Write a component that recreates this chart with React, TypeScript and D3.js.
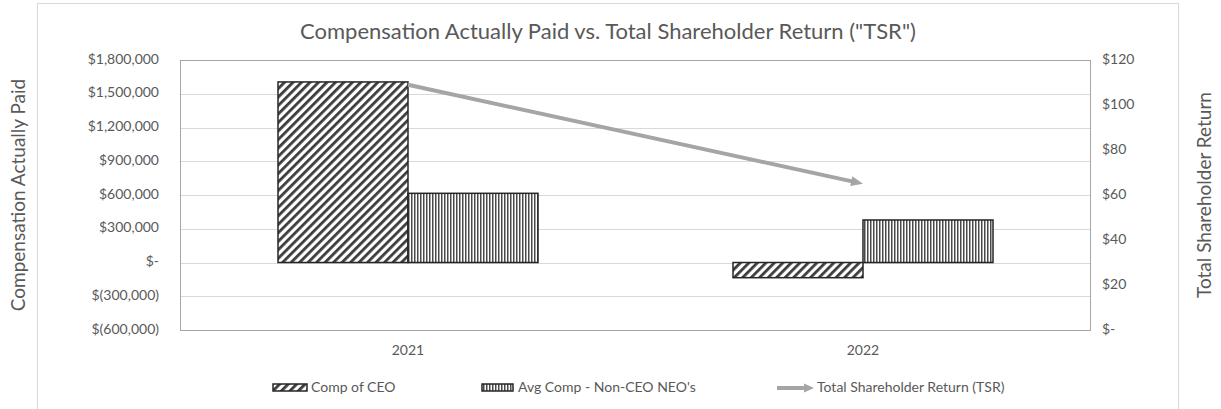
import React from 'react';
import * as d3 from 'd3';

// chart values
const years = ['2021', '2022'];
const ceoComp = [1605000, -135000];
const neoComp = [615000, 378000];
const tsr = [109, 65];
const leftTicks = [-600000, -300000, 0, 300000, 600000, 900000, 1200000, 1500000, 1800000];
const rightTicks = [0, 20, 40, 60, 80, 100, 120];
const seriesNames = ['Comp of CEO', "Avg Comp - Non-CEO NEO's"];
const lineName = 'Total Shareholder Return (TSR)';

const W = 1221;
const H = 409;
const plot = { left: 180.5, right: 1090.5, top: 60, bottom: 330 };
const textColor = '#595959';
const font = 'Lato, "Open Sans", sans-serif';

const fmtLeft = (v: number) => {
  if (v === 0) return '$-';
  const s = d3.format(',')(Math.abs(v));
  return v < 0 ? `$(${s})` : `$${s}`;
};
const fmtRight = (v: number) => (v === 0 ? '$-' : `$${v}`);

// arrow shaft that stops short of the tip so the head stays clean
const arrow = (x1: number, y1: number, x2: number, y2: number, len: number, half: number) => {
  const dx = x2 - x1, dy = y2 - y1;
  const d = Math.hypot(dx, dy);
  const ux = dx / d, uy = dy / d;
  const bx = x2 - ux * len, by = y2 - uy * len;
  const head = `M${x2},${y2}L${bx - uy * half},${by + ux * half}L${bx + uy * half},${by - ux * half}Z`;
  return { shaftEnd: [bx + ux * 2, by + uy * 2], head };
};

const App: React.FC = () => {
  const x0 = d3.scaleBand<string>().domain(years).range([plot.left, plot.right]);
  const x1 = d3.scaleBand<string>().domain(seriesNames).range([0, x0.bandwidth()]).paddingInner(0).paddingOuter(0.75);
  const yL = d3.scaleLinear().domain([-600000, 1800000]).range([plot.bottom, plot.top]);
  const yR = d3.scaleLinear().domain([0, 120]).range([plot.bottom, plot.top]);

  const fills = ['url(#diag)', 'url(#vert)'];
  const bars = years.flatMap((yr, i) =>
    [ceoComp[i], neoComp[i]].map((v, j) => ({
      key: `${yr}-${j}`,
      x: (x0(yr) as number) + (x1(seriesNames[j]) as number),
      y: yL(Math.max(0, v)),
      h: Math.abs(yL(v) - yL(0)),
      fill: fills[j],
    }))
  );

  const pts = years.map((yr, i) => [(x0(yr) as number) + x0.bandwidth() / 2, yR(tsr[i])] as [number, number]);
  const last = pts[pts.length - 1];
  const prev = pts[pts.length - 2];
  const a = arrow(prev[0], prev[1], last[0], last[1], 12, 5);
  const linePts = [...pts.slice(0, -1), a.shaftEnd as [number, number]];
  const lineGen = d3.line();

  const legY = 388;
  const legArrow = arrow(777, legY, 814, legY, 10, 4.5);

  return (
    <div style={{ position: 'absolute', left: 0, top: 0 }}>
      <svg width={W} height={H} style={{ display: 'block', fontFamily: font }}>
        <defs>
          <pattern id="diag" patternUnits="userSpaceOnUse" width={6} height={6} patternTransform="rotate(45)">
            <rect width={6} height={6} fill="#fff" />
            <rect width={2.8} height={6} fill="#3c3c3c" />
          </pattern>
          <pattern id="vert" patternUnits="userSpaceOnUse" width={3} height={3}>
            <rect width={3} height={3} fill="#fff" />
            <rect width={1.5} height={3} fill="#4a4a4a" />
          </pattern>
        </defs>

        <rect x={0} y={0} width={W} height={H} fill="#fff" />
        <rect x={37.5} y={3.5} width={1141} height={420} fill="#fff" stroke="#d9d9d9" />

        <text x={608} y={33} textAnchor="middle" dominantBaseline="middle" fontSize={22} fill={textColor}>
          Compensation Actually Paid vs. Total Shareholder Return ("TSR")
        </text>

        {/* gridlines */}
        {leftTicks.map((t) => (
          <line key={t} x1={plot.left} x2={plot.right} y1={Math.round(yL(t)) + 0.5} y2={Math.round(yL(t)) + 0.5} stroke="#d9d9d9" />
        ))}
        <rect x={plot.left} y={plot.top + 0.5} width={plot.right - plot.left} height={plot.bottom - plot.top} fill="none" stroke="#a6a6a6" />

        {/* left axis */}
        {leftTicks.map((t) => (
          <text key={t} x={159} y={yL(t)} textAnchor="end" dominantBaseline="middle" fontSize={14} fill={textColor}>
            {fmtLeft(t)}
          </text>
        ))}
        {/* right axis */}
        {rightTicks.map((t) => (
          <text key={t} x={1102} y={yR(t)} textAnchor="start" dominantBaseline="middle" fontSize={14} fill={textColor}>
            {fmtRight(t)}
          </text>
        ))}
        {years.map((yr) => (
          <text key={yr} x={(x0(yr) as number) + x0.bandwidth() / 2} y={351} textAnchor="middle" dominantBaseline="middle" fontSize={14} fill={textColor}>
            {yr}
          </text>
        ))}

        <text transform={`translate(20,${(plot.top + plot.bottom) / 2}) rotate(-90)`} textAnchor="middle" dominantBaseline="middle" fontSize={19} fill={textColor}>
          Compensation Actually Paid
        </text>
        <text transform={`translate(1206,${(plot.top + plot.bottom) / 2}) rotate(-90)`} textAnchor="middle" dominantBaseline="middle" fontSize={19} fill={textColor}>
          Total Shareholder Return
        </text>

        {/* bars */}
        {bars.map((b) => (
          <rect key={b.key} x={b.x} y={b.y} width={x1.bandwidth()} height={b.h} fill={b.fill} stroke="#262626" strokeWidth={1.5} />
        ))}

        {/* TSR line */}
        <path d={lineGen(linePts) as string} fill="none" stroke="#a5a5a5" strokeWidth={4} />
        <path d={a.head} fill="#a5a5a5" />

        {/* legend */}
        <rect x={273} y={384} width={34} height={7} fill="url(#diag)" stroke="#262626" strokeWidth={1.5} />
        <text x={311} y={legY} dominantBaseline="middle" fontSize={14} fill={textColor}>{seriesNames[0]}</text>
        <rect x={482} y={384} width={31} height={7} fill="url(#vert)" stroke="#262626" strokeWidth={1.5} />
        <text x={518} y={legY} dominantBaseline="middle" fontSize={14} fill={textColor}>{seriesNames[1]}</text>
        <line x1={777} y1={legY} x2={legArrow.shaftEnd[0]} y2={legY} stroke="#a5a5a5" strokeWidth={4} />
        <path d={legArrow.head} fill="#a5a5a5" />
        <text x={817} y={legY} dominantBaseline="middle" fontSize={14} fill={textColor}>{lineName}</text>
      </svg>
    </div>
  );
};

export default App;
